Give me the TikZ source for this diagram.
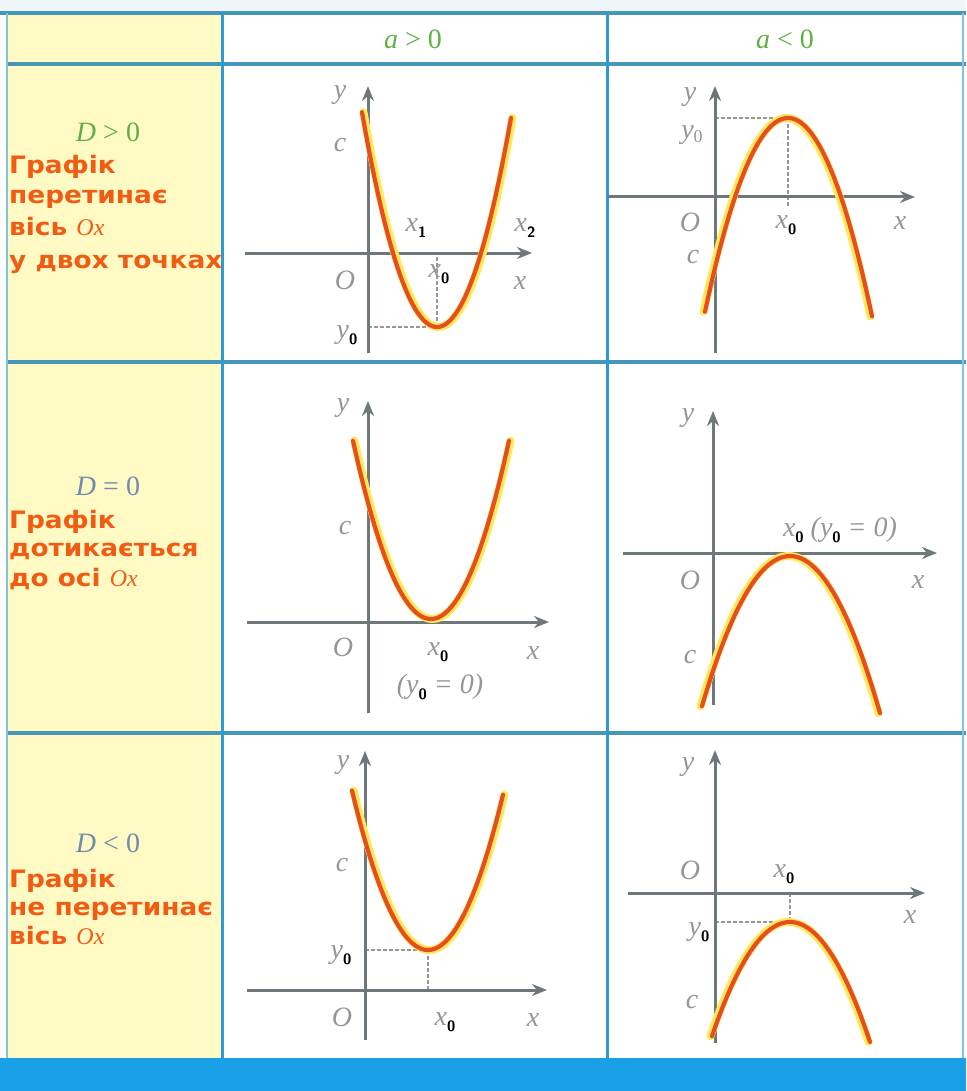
\documentclass[tikz,border=0pt]{standalone}
\usepackage{fontspec}
\usetikzlibrary{arrows.meta}
\newfontfamily\rowfont{DejaVu Sans}[FakeStretch=1.1]
\newfontfamily\lblfont{Liberation Serif}
\definecolor{axisgray}{RGB}{110,120,122}
\definecolor{labelgray}{RGB}{150,150,150}
\definecolor{curvecol}{RGB}{230,78,32}
\definecolor{glowcol}{RGB}{255,232,90}
\definecolor{gridblue}{RGB}{45,155,210}
\definecolor{hgrid}{RGB}{70,150,185}
\definecolor{yellowbg}{RGB}{255,250,195}
\definecolor{textorange}{RGB}{240,92,20}
\definecolor{dgreen}{RGB}{95,175,70}
\definecolor{dblue}{RGB}{110,140,175}
\definecolor{bandblue}{RGB}{25,160,230}
\definecolor{topstrip}{RGB}{238,246,250}
\newcommand\mylab[1]{{\lblfont\itshape #1}}
\newcommand\msub[1]{\raisebox{-6pt}{\color{black}\fontsize{15}{15}\selectfont\sffamily\upshape\bfseries #1}}
\begin{document}
\begin{tikzpicture}[x=1pt,y=-1pt,
  lbl/.style={text=labelgray,font=\fontsize{28}{28}\selectfont\lblfont\itshape,inner sep=0pt},
  rowtxt/.style={anchor=base west,text=textorange,font=\fontsize{24}{24}\selectfont\rowfont\bfseries,inner sep=0pt},
  dlab/.style={anchor=base,font=\fontsize{28}{28}\selectfont\lblfont,inner sep=0pt},
  hdr/.style={text=dgreen,font=\fontsize{28}{28}\selectfont\lblfont,inner sep=0pt},
  axis/.style={draw=axisgray,line width=3pt,-{Stealth[length=15pt,width=12pt]}},
  glow/.style={draw=glowcol,line width=8pt,line cap=round},
  curve/.style={draw=curvecol,line width=4.2pt,line cap=round},
  guide/.style={draw=labelgray,line width=1.2pt,dashed,dash pattern=on 4pt off 2pt},
  hline/.style={draw=hgrid,line width=4pt},
  vline/.style={draw=gridblue,line width=3pt}]
\useasboundingbox (0,0) rectangle (966,1091);
% background
\fill[white] (0,0) rectangle (966,1091);
\fill[topstrip] (0,0) rectangle (966,13);
\fill[yellowbg] (7,13) rectangle (222,1058);
\fill[bandblue] (0,1058) rectangle (966,1091);
% grid
\draw[hline] (0,13) -- (966,13);
\draw[hline] (7,64) -- (966,64);
\draw[hline] (7,362) -- (966,362);
\draw[hline] (7,733) -- (966,733);
\draw[draw=gridblue!60,line width=1.5pt] (7,13) -- (7,1058);
\draw[draw=gridblue!60,line width=1.5pt] (963,13) -- (963,1058);
\draw[vline] (222,13) -- (222,1058);
\draw[vline] (607,13) -- (607,1058);
% header
\node[hdr] (ha) at (413,39) {\mylab{a} > 0};
\node[hdr] (hb) at (785,39) {\mylab{a} < 0};
% left column row 1
\node[dlab,text=dgreen] (d1) at (108,142) {\mylab{D} > 0};
\node[rowtxt] (t11) at (9,174) {Графік};
\node[rowtxt] (t12) at (9,204) {перетинає};
\node[rowtxt] (t13) at (9,236) {вісь \mdseries\mylab{Ox}};
\node[rowtxt] (t14) at (9,268) {у двох точках};
% row 2
\node[dlab,text=dblue] (d2) at (108,495) {\mylab{D} = 0};
\node[rowtxt] (t21) at (9,528) {Графік};
\node[rowtxt] (t22) at (9,556) {дотикається};
\node[rowtxt] (t23) at (9,586) {до осі \mdseries\mylab{Ox}};
% row 3
\node[dlab,text=dblue] (d3) at (108,852) {\mylab{D} < 0};
\node[rowtxt] (t31) at (9,887) {Графік};
\node[rowtxt] (t32) at (9,915) {не перетинає};
\node[rowtxt] (t33) at (9,944) {вісь \mdseries\mylab{Ox}};

% ===== Row 1, a>0 =====
\coordinate (a1xs) at (245,253); \coordinate (a1xe) at (532,253);
\coordinate (a1ys) at (368,353); \coordinate (a1ye) at (368,86);
\coordinate (a1v) at (437,327); \coordinate (a1vy) at (368,327); \coordinate (a1vx) at (437,253);
\draw[guide] (a1vy) -- (a1v);
\draw[guide] (a1v) -- (a1vx);
\draw[axis] (a1xs) -- (a1xe);
\draw[axis] (a1ys) -- (a1ye);
\draw[glow,xshift=1.5pt] plot[domain=362:511,samples=60] (\x,{327-0.0382*(\x-437)^2});
\draw[curve] plot[domain=362:511,samples=60] (\x,{327-0.0382*(\x-437)^2});
\node[lbl] (a1y) at (340,95) {y};
\node[lbl] (a1c) at (340,145) {c};
\node[lbl] (a1x1) at (416,228) {x\msub{1}};
\node[lbl] (a1x2) at (525,228) {x\msub{2}};
\node[lbl] (a1o) at (345,280) {O};
\node[lbl] (a1x0) at (439,274) {x\msub{0}};
\node[lbl] (a1x) at (520,283) {x};
\node[lbl] (a1y0) at (347,335) {y\msub{0}};

% ===== Row 1, a<0 =====
\coordinate (b1xs) at (608,197); \coordinate (b1xe) at (915,197);
\coordinate (b1ys) at (715,353); \coordinate (b1ye) at (715,86);
\coordinate (b1v) at (788,118); \coordinate (b1vy) at (715,118); \coordinate (b1vx) at (788,207);
\draw[guide] (b1vy) -- (b1v);
\draw[guide] (b1v) -- (b1vx);
\draw[axis] (b1xs) -- (b1xe);
\draw[axis] (b1ys) -- (b1ye);
\draw[glow,xshift=-1.5pt] plot[domain=705:872,samples=60] (\x,{118+0.0281*(\x-788)^2});
\draw[curve] plot[domain=705:872,samples=60] (\x,{118+0.0281*(\x-788)^2});
\node[lbl] (b1y) at (690,97) {y};
\node[lbl] (b1y0) at (692,135) {y\raisebox{-4pt}{\fontsize{18}{18}\selectfont\upshape 0}};
\node[lbl] (b1o) at (690,222) {O};
\node[lbl] (b1x0) at (786,225) {x\msub{0}};
\node[lbl] (b1x) at (900,223) {x};
\node[lbl] (b1c) at (693,257) {c};

% ===== Row 2, a>0 =====
\coordinate (a2xs) at (247,622); \coordinate (a2xe) at (549,622);
\coordinate (a2ys) at (368,713); \coordinate (a2ye) at (368,401);
\draw[axis] (a2xs) -- (a2xe);
\draw[axis] (a2ys) -- (a2ye);
\draw[glow,xshift=1.5pt] plot[domain=353:509,samples=60] (\x,{619-0.0293*(\x-431)^2});
\draw[curve] plot[domain=353:509,samples=60] (\x,{619-0.0293*(\x-431)^2});
\node[lbl] (a2y) at (343,408) {y};
\node[lbl] (a2c) at (345,528) {c};
\node[lbl] (a2o) at (343,647) {O};
\node[lbl] (a2x0) at (438,652) {x\msub{0}};
\node[lbl] (a2x) at (533,653) {x};
\node[lbl] (a2y00) at (440,687) {(y\msub{0} = 0)};

% ===== Row 2, a<0 =====
\coordinate (b2xs) at (623,553); \coordinate (b2xe) at (937,553);
\coordinate (b2ys) at (713,705); \coordinate (b2ye) at (713,411);
\draw[axis] (b2xs) -- (b2xe);
\draw[axis] (b2ys) -- (b2ye);
\draw[glow,xshift=-1.5pt] plot[domain=702:880,samples=60] (\x,{556+0.0194*(\x-790)^2});
\draw[curve] plot[domain=702:880,samples=60] (\x,{556+0.0194*(\x-790)^2});
\node[lbl] (b2y) at (688,418) {y};
\node[lbl] (b2x0) at (840,530) {x\msub{0} (y\msub{0} = 0)};
\node[lbl] (b2o) at (690,580) {O};
\node[lbl] (b2x) at (918,582) {x};
\node[lbl] (b2c) at (690,657) {c};

% ===== Row 3, a>0 =====
\coordinate (a3xs) at (247,990); \coordinate (a3xe) at (547,990);
\coordinate (a3ys) at (365,1040); \coordinate (a3ye) at (365,751);
\coordinate (a3v) at (428,950); \coordinate (a3vy) at (365,950); \coordinate (a3vx) at (428,990);
\draw[guide] (a3vy) -- (a3v);
\draw[guide] (a3v) -- (a3vx);
\draw[axis] (a3xs) -- (a3xe);
\draw[axis] (a3ys) -- (a3ye);
\draw[glow,xshift=1.5pt] plot[domain=352:503,samples=60] (\x,{950-0.0276*(\x-428)^2});
\draw[curve] plot[domain=352:503,samples=60] (\x,{950-0.0276*(\x-428)^2});
\node[lbl] (a3y) at (343,765) {y};
\node[lbl] (a3c) at (342,865) {c};
\node[lbl] (a3y0) at (341,955) {y\msub{0}};
\node[lbl] (a3o) at (342,1017) {O};
\node[lbl] (a3x0) at (445,1022) {x\msub{0}};
\node[lbl] (a3x) at (533,1020) {x};

% ===== Row 3, a<0 =====
\coordinate (b3xs) at (628,893); \coordinate (b3xe) at (925,893);
\coordinate (b3ys) at (715,1043); \coordinate (b3ye) at (715,750);
\coordinate (b3v) at (790,922); \coordinate (b3vy) at (715,922); \coordinate (b3vx) at (790,893);
\draw[guide] (b3vy) -- (b3v);
\draw[guide] (b3vx) -- (b3v);
\draw[axis] (b3xs) -- (b3xe);
\draw[axis] (b3ys) -- (b3ye);
\draw[glow,xshift=-1.5pt] plot[domain=712:870,samples=60] (\x,{922+0.01875*(\x-790)^2});
\draw[curve] plot[domain=712:870,samples=60] (\x,{922+0.01875*(\x-790)^2});
\node[lbl] (b3y) at (688,767) {y};
\node[lbl] (b3o) at (690,870) {O};
\node[lbl] (b3x0) at (784,874) {x\msub{0}};
\node[lbl] (b3x) at (910,917) {x};
\node[lbl] (b3y0) at (699,932) {y\msub{0}};
\node[lbl] (b3c) at (692,1002) {c};
\end{tikzpicture}
\end{document}
